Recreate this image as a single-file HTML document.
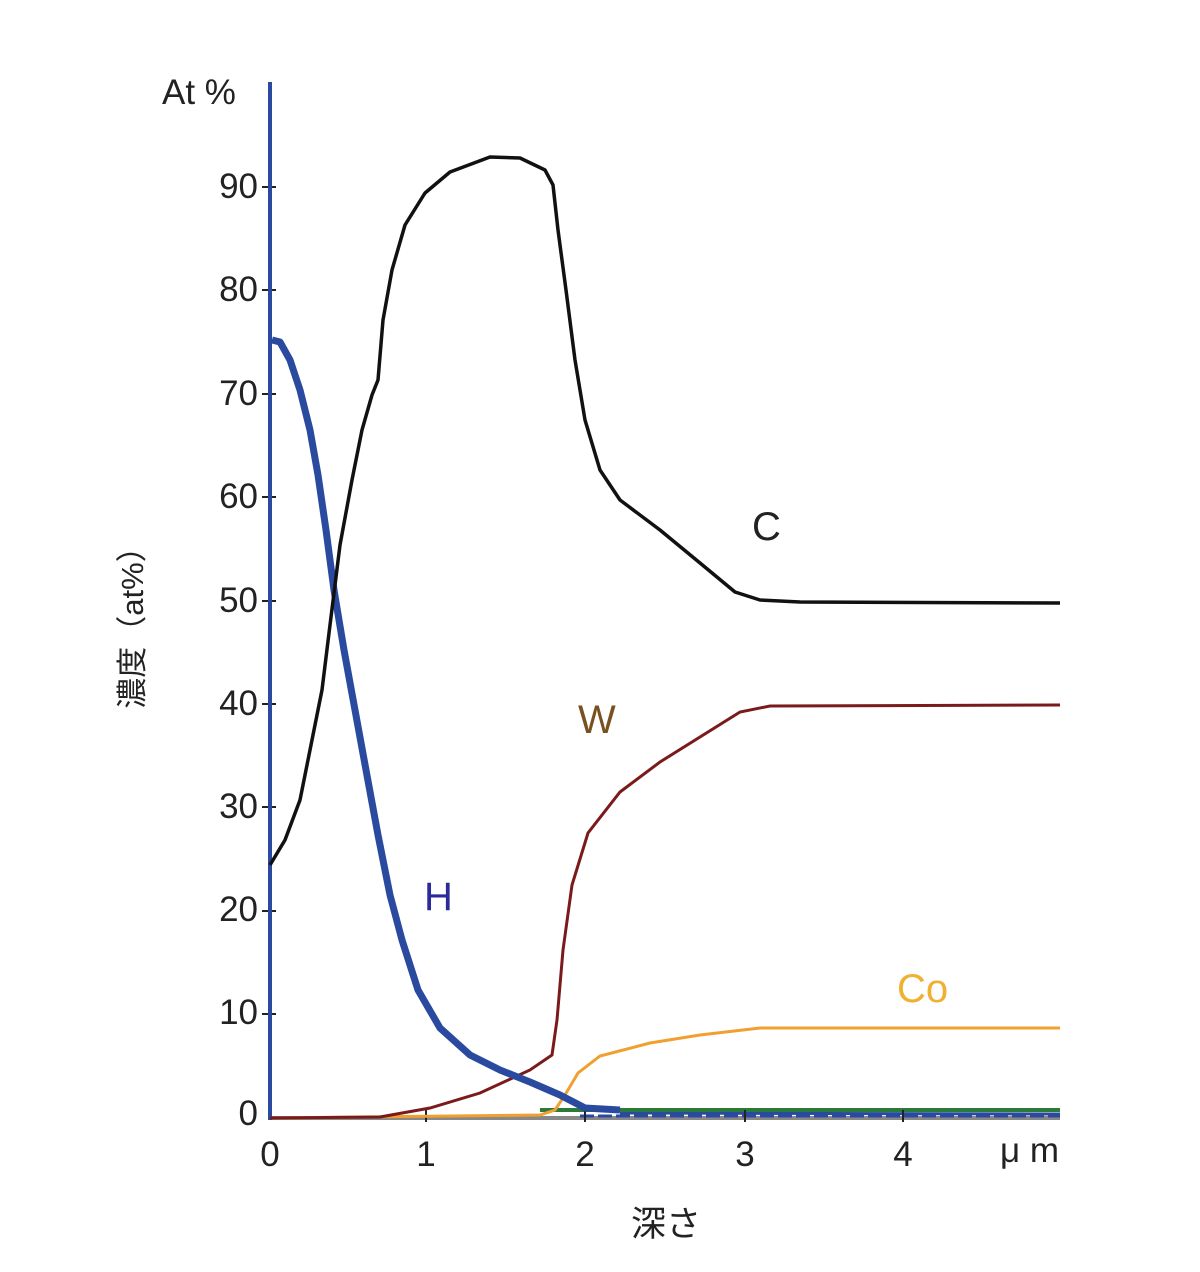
<!DOCTYPE html>
<html><head><meta charset="utf-8"><style>
html,body{margin:0;padding:0;background:#fff;}
svg{display:block;}
text{font-family:"Liberation Sans","Noto Sans CJK JP",sans-serif;}
</style></head><body>
<svg width="1200" height="1272" viewBox="0 0 1200 1272" xmlns="http://www.w3.org/2000/svg">
<rect width="1200" height="1272" fill="#fff"/>
<line x1="270" y1="1118" x2="1060" y2="1118" stroke="#888" stroke-width="4"/>
<polyline fill="none" stroke="#2a4aa0" stroke-width="3" points="620,1113 1060,1114"/>
<line x1="580" y1="1116" x2="1060" y2="1116" stroke="#2a4aa0" stroke-width="3" stroke-dasharray="14 4"/>
<line x1="540" y1="1110" x2="1060" y2="1110" stroke="#2a7a3a" stroke-width="4"/>
<g stroke="#222" stroke-width="2">
<line x1="426" y1="1110" x2="426" y2="1122"/><line x1="585" y1="1110" x2="585" y2="1122"/>
<line x1="745" y1="1110" x2="745" y2="1122"/><line x1="903" y1="1110" x2="903" y2="1122"/>
</g>
<g stroke="#222" stroke-width="2">
<line x1="262" y1="1014" x2="276" y2="1014"/><line x1="262" y1="911" x2="276" y2="911"/>
<line x1="262" y1="807" x2="276" y2="807"/><line x1="262" y1="704" x2="276" y2="704"/>
<line x1="262" y1="601" x2="276" y2="601"/><line x1="262" y1="497" x2="276" y2="497"/>
<line x1="262" y1="394" x2="276" y2="394"/><line x1="262" y1="290" x2="276" y2="290"/>
<line x1="262" y1="187" x2="276" y2="187"/>
</g>
<line x1="270" y1="82" x2="270" y2="1120" stroke="#2a4aa0" stroke-width="4"/>
<polyline fill="none" stroke="#f0a030" stroke-width="3" points="270,1118 540,1115 555,1110 565,1095 578,1073 600,1056 650,1043 700,1035 760,1028 1060,1028"/>
<polyline fill="none" stroke="#7a1a1a" stroke-width="3" points="270,1118 380,1117 430,1108 480,1093 530,1070 552,1055 557,1020 563,950 572,885 588,833 620,792 660,762 700,737 740,712 770,706 1060,705"/>
<polyline fill="none" stroke="#2a4aa0" stroke-width="7" stroke-linejoin="round" points="272,340 280,342 290,360 300,390 310,430 318,475 326,530 334,590 344,650 355,710 366,770 378,835 390,895 402,940 418,990 440,1028 470,1055 500,1070 530,1082 560,1095 585,1108 620,1110"/>
<polyline fill="none" stroke="#111" stroke-width="3.5" stroke-linejoin="round" points="270,865 285,840 300,800 312,740 322,690 330,625 340,545 352,480 362,430 372,395 378,380 383,320 392,270 405,225 425,193 450,172 490,157 520,158 545,170 553,185 558,230 566,290 575,360 585,420 600,470 620,500 660,530 700,563 735,592 760,600 800,602 1060,603"/>
<g font-size="35" fill="#222">
<text x="162" y="104">At %</text>
<g text-anchor="end">
<text x="258" y="1125">0</text><text x="258" y="1024">10</text><text x="258" y="921">20</text>
<text x="258" y="818">30</text><text x="258" y="715">40</text><text x="258" y="612">50</text>
<text x="258" y="508">60</text><text x="258" y="405">70</text><text x="258" y="301">80</text>
<text x="258" y="198">90</text>
</g>
<g text-anchor="middle">
<text x="270" y="1166">0</text><text x="426" y="1166">1</text><text x="585" y="1166">2</text>
<text x="745" y="1166">3</text><text x="903" y="1166">4</text>
</g>
<text x="1000" y="1162">μ m</text>
<text x="666" y="1236" text-anchor="middle">深さ</text>
<text transform="translate(143,620) rotate(-90)" text-anchor="middle" font-size="31">濃度（at%）</text>
</g>
<text x="752" y="540" font-size="40" fill="#222">C</text>
<text x="578" y="733" font-size="40" fill="#7a5020">W</text>
<text x="424" y="910" font-size="40" fill="#2a2a9a">H</text>
<text x="897" y="1002" font-size="40" fill="#f0b030">Co</text>
</svg>
</body></html>
